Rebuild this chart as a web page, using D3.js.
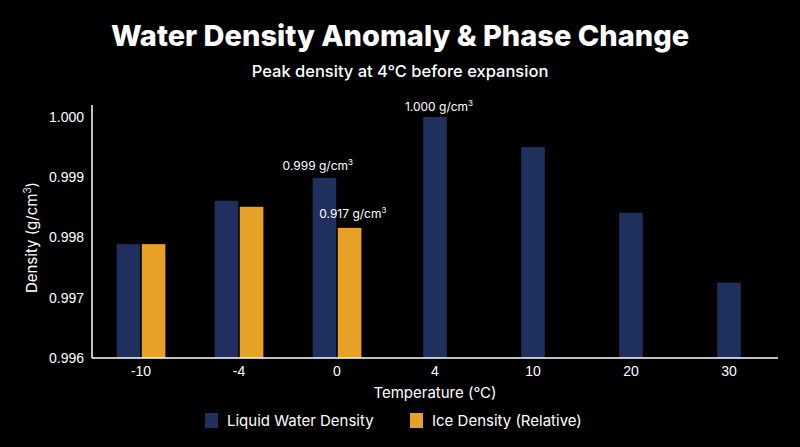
<!DOCTYPE html>
<html><head><meta charset="utf-8">
<script src="https://cdn.jsdelivr.net/npm/d3@7"></script>
<style>body{margin:0;background:#000;}svg{display:block;font-family:"Inter","Noto Sans",sans-serif;}</style>
</head><body><div id="chart"></div>
<script>
// chart data
const temps = ["-10", "-4", "0", "4", "10", "20", "30"];
const liquidDensity = [0.99789, 0.99861, 0.99899, 1.0000, 0.99950, 0.99841, 0.99725];
const iceDensity = [0.99789, 0.99851, 0.99816, null, null, null, null];
const yTicks = [0.996, 0.997, 0.998, 0.999, 1.000];
const series = ["Liquid Water Density", "Ice Density (Relative)"];

const width = 800, height = 447;
const margin = {top: 105, right: 22, bottom: 89, left: 92};
const liquidColor = "#1f2f5e", iceColor = "#e6a126";

const svg = d3.select("#chart").append("svg")
    .attr("width", width).attr("height", height)
    .style("background", "#000");

svg.append("text").attr("x", width / 2).attr("y", 46)
    .attr("text-anchor", "middle").attr("fill", "#fff")
    .style("font-size", "29px").style("font-weight", "800")
    .text("Water Density Anomaly & Phase Change");
svg.append("text").attr("x", width / 2).attr("y", 77)
    .attr("text-anchor", "middle").attr("fill", "#fff")
    .style("font-size", "16.5px").style("font-weight", "500")
    .text("Peak density at 4°C before expansion");

const x = d3.scaleBand().domain(temps)
    .range([margin.left, width - margin.right]).paddingInner(0.2).paddingOuter(0.1);
const x1 = d3.scaleBand().domain([0, 1]).range([0, x.bandwidth()]).padding(0.04);
const y = d3.scaleLinear().domain([0.996, 1.000])
    .range([height - margin.bottom, margin.top + 12]);

const bars = svg.append("g");
temps.forEach((t, i) => {
    const hasIce = iceDensity[i] != null;
    const bw = x1.bandwidth() * 0.64;
    const liquidX = hasIce ? x(t) + x1(0) + x1.bandwidth() - bw : x(t) + x.bandwidth() / 2 - bw / 2;
    bars.append("rect").attr("x", liquidX).attr("y", y(liquidDensity[i]))
        .attr("width", bw).attr("height", y(0.996) - y(liquidDensity[i]))
        .attr("fill", liquidColor);
    if (hasIce) {
        bars.append("rect").attr("x", x(t) + x1(1)).attr("y", y(iceDensity[i]))
            .attr("width", bw).attr("height", y(0.996) - y(iceDensity[i]))
            .attr("fill", iceColor);
    }
});

// axes
const yAxis = svg.append("g").attr("transform", `translate(${margin.left},0)`)
    .call(d3.axisLeft(y).tickValues(yTicks).tickFormat(d3.format(".3f")).tickSize(0).tickPadding(8));
const xAxis = svg.append("g").attr("transform", `translate(0,${height - margin.bottom})`)
    .call(d3.axisBottom(x).tickSize(0).tickPadding(8));
[xAxis, yAxis].forEach(a => {
    a.select(".domain").attr("stroke", "#fff").attr("stroke-width", 1.5);
    a.selectAll("text").attr("fill", "#fff").style("font-size", "14px");
});
xAxis.select(".domain").attr("d", `M${margin.left},0H${width - margin.right}`);
yAxis.select(".domain").attr("d", `M0,${y(1.000) - 12}V${y(0.996)}`);

svg.append("text").attr("x", x("4") + x.bandwidth() / 2).attr("y", height - margin.bottom + 40)
    .attr("text-anchor", "middle").attr("fill", "#fff").style("font-size", "15px")
    .text("Temperature (°C)");
svg.append("text").attr("transform", `translate(37,${y(0.998)}) rotate(-90)`)
    .attr("text-anchor", "middle").attr("fill", "#fff").style("font-size", "15px")
    .html('Density (g/cm<tspan dy="-6" font-size="10">3</tspan><tspan dy="6">)</tspan>');

// annotations
function note(cx, cy, txt) {
    svg.append("text").attr("x", cx).attr("y", cy).attr("text-anchor", "middle")
        .attr("fill", "#fff").style("font-size", "12px")
        .html(`${txt} g/cm<tspan dy="-5" font-size="8">3</tspan>`);
}
note(x("4") + x.bandwidth() / 2 + 4, y(1.000) - 6, "1.000");
note(x("0") + x1(0) + x1.bandwidth() * 0.5, y(liquidDensity[2]) - 8, "0.999");
note(x("0") + x1(1) + x1.bandwidth() * 0.3 + 4, y(iceDensity[2]) - 10, "0.917");

// legend
const legend = svg.append("g").attr("transform", `translate(205,${height - 27})`);
series.forEach((s, i) => {
    const g = legend.append("g").attr("transform", `translate(${i * 205},0)`);
    g.append("rect").attr("x", 0).attr("y", -7).attr("width", 13).attr("height", 15)
        .attr("fill", i ? iceColor : liquidColor);
    g.append("text").attr("x", 22).attr("y", 6).attr("fill", "#fff")
        .style("font-size", "15px").text(s);
});
</script></body></html>
